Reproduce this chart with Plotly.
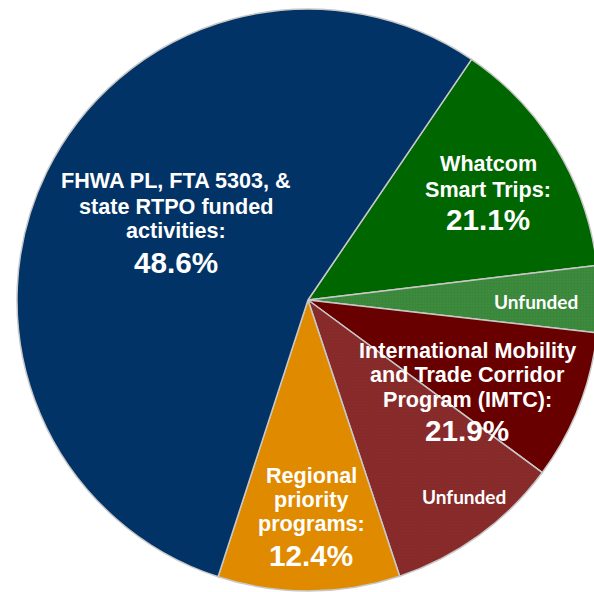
import plotly.graph_objects as go

# ---- data (slice shares, in drawing order, clockwise) ----
slice_names = [
    "Whatcom Smart Trips",
    "Whatcom Smart Trips - Unfunded",
    "IMTC",
    "IMTC - Unfunded",
    "Regional priority programs",
    "FHWA PL, FTA 5303, & state RTPO funded activities",
]
slice_values = [13.6, 3.7, 8.3, 9.8, 10.1, 54.5]
slice_colors = ["#006600", "#3d8b3d", "#680000", "#8a2b2b", "#e08a00", "#023366"]
slice_patterns = ["", "+", "", "+", "", ""]

# printed labels (as shown on the chart)
label_lines = {
    "fhwa": ["FHWA PL, FTA 5303, &", "state RTPO funded", "activities:"],
    "whatcom": ["Whatcom", "Smart Trips:"],
    "imtc": ["International Mobility", "and Trade Corridor", "Program (IMTC):"],
    "regional": ["Regional", "priority", "programs:"],
}
label_pcts = {"fhwa": "48.6%", "whatcom": "21.1%", "imtc": "21.9%", "regional": "12.4%"}
unfunded_text = "Unfunded"

VIEW_W, VIEW_H = 594, 592
W, H = 606, 592          # figure slightly wider; wrapper clips it to the view

# pie centre / radius in pixels
CX, CY, R = 308, 300, 291

fig = go.Figure()
fig.add_trace(go.Pie(
    labels=slice_names,
    values=slice_values,
    sort=False,
    direction="clockwise",
    rotation=34.2,
    textinfo="none",
    hoverinfo="skip",
    showlegend=False,
    domain=dict(x=[(CX - R) / W, (CX + R) / W],
                y=[1 - (CY + R) / H, 1 - (CY - R) / H]),
    marker=dict(
        colors=slice_colors,
        line=dict(color="#c8c8c8", width=1.5),
        pattern=dict(shape=slice_patterns, size=3, solidity=0.15,
                     fgcolor="rgba(0,0,0,0.25)", fillmode="overlay"),
    ),
))

BOLD = "Liberation Sans, Arial, sans-serif"

def px_ann(x, y, text, size, family=BOLD):
    fig.add_annotation(
        x=x / W, y=1 - y / H, xref="paper", yref="paper",
        text="<b>%s</b>" % text, showarrow=False,
        xanchor="center", yanchor="middle",
        font=dict(family=family, size=size, color="white"),
    )

# label layout (pixel centres)
layout_pos = {
    "fhwa": (176, [181, 206, 231], 262),
    "whatcom": (488, [164, 189], 219),
    "imtc": (467, [350, 374, 399], 430),
    "regional": (311, [475, 499, 523], 555),
}
for key, (cx, ys, py) in layout_pos.items():
    for line, y in zip(label_lines[key], ys):
        px_ann(cx, y, line, 21.6)
    px_ann(cx, py, label_pcts[key], 29.7)

px_ann(536, 301, unfunded_text, 19, family="Lato, Carlito, sans-serif")
px_ann(464, 496, unfunded_text, 19, family="Lato, Carlito, sans-serif")

fig.update_layout(
    width=W, height=H,
    margin=dict(l=0, r=0, t=0, b=0),
    paper_bgcolor="white", plot_bgcolor="white",
)

post = (
    "document.body.style.margin='0';"
    "document.body.style.overflow='hidden';"
    "var d=document.getElementById('{plot_id}');"
    "var p=d.parentElement;"
    "p.style.width='%dpx';p.style.height='%dpx';p.style.overflow='hidden';"
    % (VIEW_W, VIEW_H)
)

fig.write_html("out.html", config={"displayModeBar": False}, post_script=post)
